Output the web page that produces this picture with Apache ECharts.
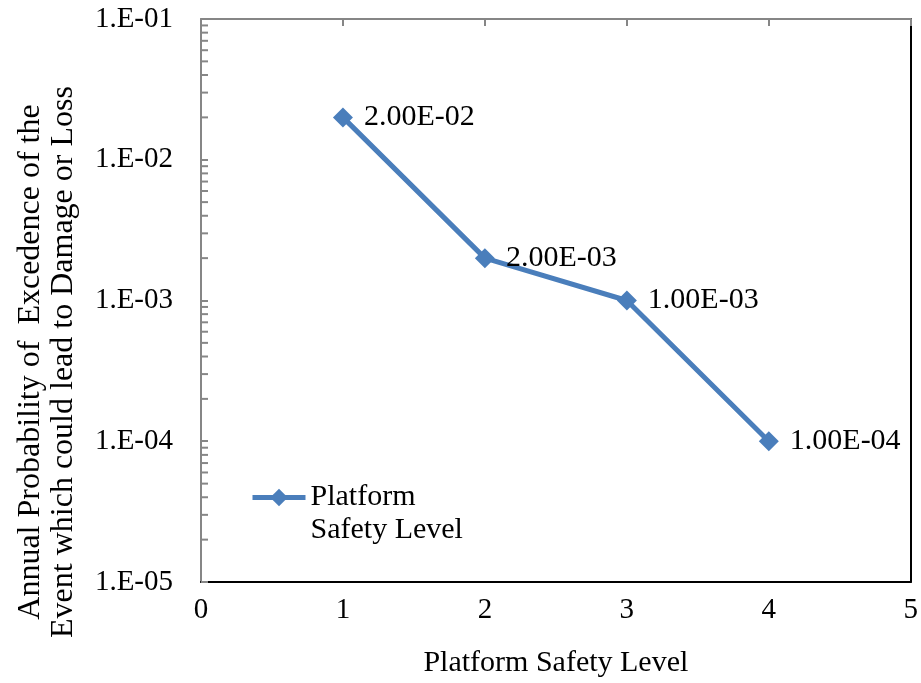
<!DOCTYPE html>
<html>
<head>
<meta charset="utf-8">
<script src="https://cdn.jsdelivr.net/npm/echarts@6/dist/echarts.min.js"></script>
<style>html,body{margin:0;padding:0;background:#fff}#c{width:921px;height:683px}</style>
</head>
<body>
<div id="c"></div>
<script>
var safetyLevels = [1, 2, 3, 4];
var probabilities = [2e-2, 2e-3, 1e-3, 1e-4];
var pointLabels = ['2.00E-02', '2.00E-03', '1.00E-03', '1.00E-04'];
var yTickLabels = ['1.E-05', '1.E-04', '1.E-03', '1.E-02', '1.E-01'];
var xTickLabels = ['0', '1', '2', '3', '4', '5'];
var minorTickValues = [
  2e-5, 3e-5, 4e-5, 5e-5, 6e-5, 7e-5, 8e-5, 9e-5,
  2e-4, 3e-4, 4e-4, 5e-4, 6e-4, 7e-4, 8e-4, 9e-4,
  2e-3, 3e-3, 4e-3, 5e-3, 6e-3, 7e-3, 8e-3, 9e-3,
  2e-2, 3e-2, 4e-2, 5e-2, 6e-2, 7e-2, 8e-2, 9e-2
];
var seriesName = 'Platform Safety Level';
var legendLines = ['Platform', 'Safety Level'];
var xTitle = 'Platform Safety Level';
var yTitle = 'Annual Probability of  Excedence of the\nEvent which could lead to Damage or Loss';

var FONT = '"Liberation Serif", "Times New Roman", serif';
var FS = 30;
var chart = echarts.init(document.getElementById('c'));
var lineData = safetyLevels.map(function (x, i) { return [x, probabilities[i]]; });

chart.setOption({
  animation: false,
  grid: { left: 201, right: 9, top: 19, bottom: 101, containLabel: false },
  graphic: [{
    type: 'text',
    x: 47, y: 362,
    rotation: Math.PI / 2,
    style: {
      text: yTitle,
      font: '32px ' + FONT,
      fill: '#000',
      align: 'center',
      verticalAlign: 'middle',
      lineHeight: 33
    }
  }],
  legend: {
    left: 250, top: 448,
    padding: 0,
    orient: 'vertical',
    itemWidth: 53, itemHeight: 22,
    lineStyle: { width: 5, color: '#4a7ebb' },
    itemStyle: { color: '#4a7ebb' },
    formatter: function () { return ' \n' + legendLines.join('\n'); },
    textStyle: { fontFamily: FONT, fontSize: FS, color: '#000', lineHeight: 33 },
    data: [seriesName]
  },
  xAxis: [{
    type: 'value', min: 0, max: 5, interval: 1, position: 'bottom',
    axisLine: { show: true, onZero: false, lineStyle: { color: '#000', width: 2 } },
    axisTick: { show: false },
    splitLine: { show: false },
    axisLabel: { margin: 14, fontFamily: FONT, fontSize: 29, color: '#000',
      formatter: function (v) { return xTickLabels[Math.round(v)]; } },
    name: xTitle, nameLocation: 'middle', nameGap: 66,
    nameTextStyle: { fontFamily: FONT, fontSize: FS, color: '#000' }
  }, {
    type: 'value', min: 0, max: 5, interval: 1, position: 'top',
    axisLine: { show: true, onZero: false, lineStyle: { color: '#868686', width: 2 } },
    axisTick: { show: true, inside: true, length: 7, lineStyle: { color: '#868686', width: 2 } },
    axisLabel: { show: false },
    splitLine: { show: false }
  }],
  yAxis: [{
    type: 'log', logBase: 10, min: 1e-5, max: 1e-1, position: 'left',
    axisLine: { show: true, onZero: false, lineStyle: { color: '#868686', width: 2 } },
    axisTick: { show: true, inside: true, length: 7, lineStyle: { color: '#868686', width: 2 } },
    minorTick: { show: false },
    splitLine: { show: false },
    axisLabel: { margin: 28, fontFamily: FONT, fontSize: 29, color: '#000',
      formatter: function (v) {
        var e = Math.round(Math.log10(v));
        return yTickLabels[e + 5];
      } }
  }, {
    type: 'log', logBase: 10, min: 1e-5, max: 1e-1, position: 'right',
    axisLine: { show: true, onZero: false, lineStyle: { color: '#000', width: 2 } },
    axisTick: { show: false },
    axisLabel: { show: false },
    splitLine: { show: false }
  }],
  series: [{
    name: 'minorTicks',
    type: 'custom',
    xAxisIndex: 0, yAxisIndex: 0,
    silent: true,
    clip: false,
    data: minorTickValues.map(function (v) { return [0, v]; }),
    renderItem: function (params, api) {
      var p = api.coord([api.value(0), api.value(1)]);
      return {
        type: 'line',
        shape: { x1: p[0], y1: p[1], x2: p[0] + 7, y2: p[1] },
        style: { stroke: '#868686', lineWidth: 2 }
      };
    },
    z: 1
  }, {
    name: seriesName,
    type: 'line',
    xAxisIndex: 0, yAxisIndex: 0,
    data: lineData,
    symbol: 'diamond',
    symbolSize: 20,
    lineStyle: { color: '#4a7ebb', width: 5 },
    itemStyle: { color: '#4a7ebb' },
    label: {
      show: true, position: 'right', distance: 11,
      fontFamily: FONT, fontSize: FS, color: '#000',
      formatter: function (p) { return pointLabels[p.dataIndex]; }
    },
    z: 3
  }]
});
</script>
</body>
</html>
